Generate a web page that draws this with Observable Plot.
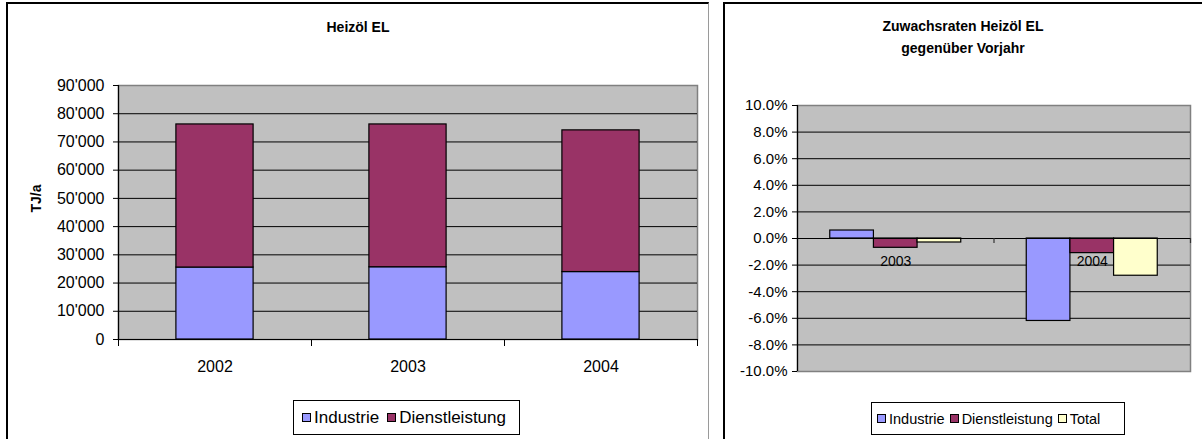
<!DOCTYPE html>
<html>
<head>
<meta charset="utf-8">
<script src="https://cdn.jsdelivr.net/npm/d3@7"></script>
<script src="https://cdn.jsdelivr.net/npm/@observablehq/plot@0.6"></script>
<style>
  html, body { margin: 0; padding: 0; background: #fff; }
  #page { position: relative; width: 1202px; height: 439px; overflow: hidden; font-family: "Liberation Sans", Arial, sans-serif; color: #000; }
  .panel { position: absolute; box-sizing: border-box; }
  .title { position: absolute; font-weight: bold; font-size: 14px; text-align: center; white-space: nowrap; }
  .legend { position: absolute; box-sizing: border-box; border: 1px solid #000; background: #fff; display: flex; align-items: center; white-space: nowrap; }
  .legend .sw { display: inline-block; box-sizing: border-box; width: 9px; height: 9px; border: 1px solid #000; margin-right: 3px; }
  .legend .it { display: inline-flex; align-items: center; }
  svg { position: absolute; top: 0; overflow: visible; }
</style>
</head>
<body>
<div id="page">
  <div class="panel" style="left:6px;top:2px;width:703px;height:460px;border-left:2px solid #000;border-top:2px solid #000;border-right:1px solid #9a9a9a;"></div>
  <div class="panel" style="left:723px;top:2px;width:490px;height:460px;border-left:2px solid #000;border-top:2px solid #000;"></div>
</div>
<script>
// ---- data: left chart ----
const years = ["2002", "2003", "2004"];
const industrie = [25500, 25600, 23900];
const dienstleistung = [50700, 50600, 50200];
const yTicks = [0, 10000, 20000, 30000, 40000, 50000, 60000, 70000, 80000, 90000];

// ---- data: right chart ----
const rateYears = ["2003", "2004"];
const rateIndustrie = [0.6, -6.2];
const rateDienstleistung = [-0.7, -1.1];
const rateTotal = [-0.3, -2.8];
const rateTicks = [-10, -8, -6, -4, -2, 0, 2, 4, 6, 8, 10];

const seriesNames = ["Industrie", "Dienstleistung", "Total"];
const seriesColors = ["#9999ff", "#993366", "#ffffcc"];

const FONT = "'Liberation Sans', Arial, sans-serif";
const page = document.getElementById("page");
const fmt = d3.formatLocale({decimal: ".", thousands: "'", grouping: [3], currency: ["", ""]}).format(",.0f");
const colorScale = {domain: seriesNames, range: seriesColors};

// ---- left chart ----
const leftData = years.flatMap((yr, i) => [
  {i, series: "Industrie", y1: 0, y2: industrie[i]},
  {i, series: "Dienstleistung", y1: industrie[i], y2: industrie[i] + dienstleistung[i]}
]);

const left = Plot.plot({
  width: 710, height: 439,
  marginLeft: 118, marginRight: 13, marginTop: 85, marginBottom: 100,
  x: {domain: [0, 3], axis: null},
  y: {domain: [0, 90000], axis: null},
  color: colorScale,
  style: {fontFamily: FONT, fontSize: "16px", background: "none", color: "#000", overflow: "visible"},
  marks: [
    Plot.frame({fill: "#c0c0c0", stroke: "#808080", strokeWidth: 1.5}),
    Plot.ruleY(yTicks.filter(v => v > 0 && v < 90000), {stroke: "#000", strokeWidth: 1}),
    Plot.rect(leftData, {x1: d => d.i + 0.3, x2: d => d.i + 0.7, y1: "y1", y2: "y2", fill: "series", stroke: "#000", strokeWidth: 1.2}),
    Plot.ruleX([0], {stroke: "#000", strokeWidth: 1.2}),
    Plot.ruleY([0], {stroke: "#000", strokeWidth: 1.2}),
    Plot.axisY(yTicks, {tickFormat: fmt, tickSize: 5, tickPadding: 9, fontSize: 16, label: null, stroke: "#000"}),
    Plot.axisX([0, 1, 2, 3], {tickFormat: () => "", tickSize: 7, label: null, stroke: "#000"}),
    Plot.axisX([0.5, 1.5, 2.5], {tickFormat: v => years[Math.floor(v)], tickSize: 0, tickPadding: 21, fontSize: 16, label: null}),
    Plot.text(["TJ/a"], {frameAnchor: "left", dx: -82, rotate: -90, fontWeight: "bold", fontSize: 14})
  ]
});
left.style.left = "0px";
page.appendChild(left);

// ---- right chart ----
const rateSeries = [rateIndustrie, rateDienstleistung, rateTotal];
const rightData = rateYears.flatMap((yr, g) => seriesNames.map((s, si) => ({g, si, series: s, value: rateSeries[si][g]})));

const right = Plot.plot({
  width: 477, height: 439,
  marginLeft: 72, marginRight: 12, marginTop: 105, marginBottom: 68,
  x: {domain: [0, 2], axis: null},
  y: {domain: [-10, 10], axis: null},
  color: colorScale,
  style: {fontFamily: FONT, fontSize: "15px", background: "none", color: "#000", overflow: "visible"},
  marks: [
    Plot.frame({fill: "#c0c0c0", stroke: "#808080", strokeWidth: 1.5}),
    Plot.ruleY(rateTicks.filter(v => v > -10 && v < 10), {stroke: "#000", strokeWidth: 1}),
    Plot.rect(rightData, {
      x1: d => d.g + 1 / 6 + d.si * 2 / 9,
      x2: d => d.g + 1 / 6 + (d.si + 1) * 2 / 9,
      y1: 0, y2: "value", fill: "series", stroke: "#000", strokeWidth: 1.2
    }),
    Plot.ruleX([0], {stroke: "#000", strokeWidth: 1.2}),
    Plot.ruleY([0], {stroke: "#000", strokeWidth: 1.2}),
    Plot.ruleX([1, 2], {y1: 0, y2: 0, insetBottom: -5, stroke: "#333", strokeWidth: 1.2}),
    Plot.axisY(rateTicks, {tickFormat: v => v.toFixed(1) + "%", tickSize: 5, tickPadding: 5, fontSize: 15, label: null, stroke: "#000"}),
    Plot.text(rateYears, {x: (d, i) => i + 0.5, y: 0, dy: 23, fontSize: 14})
  ]
});
right.style.left = "725px";
page.appendChild(right);

// ---- titles ----
function addDiv(cls, style, html) {
  const d = document.createElement("div");
  d.className = cls;
  d.setAttribute("style", style);
  d.innerHTML = html;
  page.appendChild(d);
  return d;
}
addDiv("title", "left:258px;width:200px;top:19px;line-height:16px;", "Heizöl EL");
addDiv("title", "left:813px;width:300px;top:15px;line-height:22px;", "Zuwachsraten Heizöl EL<br>gegenüber Vorjahr");

// ---- legends ----
function legend(names, style, fontSize, gap) {
  const items = names.map(n => {
    const c = seriesColors[seriesNames.indexOf(n)];
    return `<span class="it"><span class="sw" style="background:${c}"></span>${n}</span>`;
  }).join("");
  return addDiv("legend", style + `font-size:${fontSize}px;gap:${gap}px;`, items);
}
legend(["Industrie", "Dienstleistung"], "left:293px;top:400px;width:227px;height:35px;padding-left:8px;", 17, 8);
legend(["Industrie", "Dienstleistung", "Total"], "left:871px;top:402px;width:254px;height:33px;padding-left:5px;", 14.5, 5);
</script>
</body>
</html>
